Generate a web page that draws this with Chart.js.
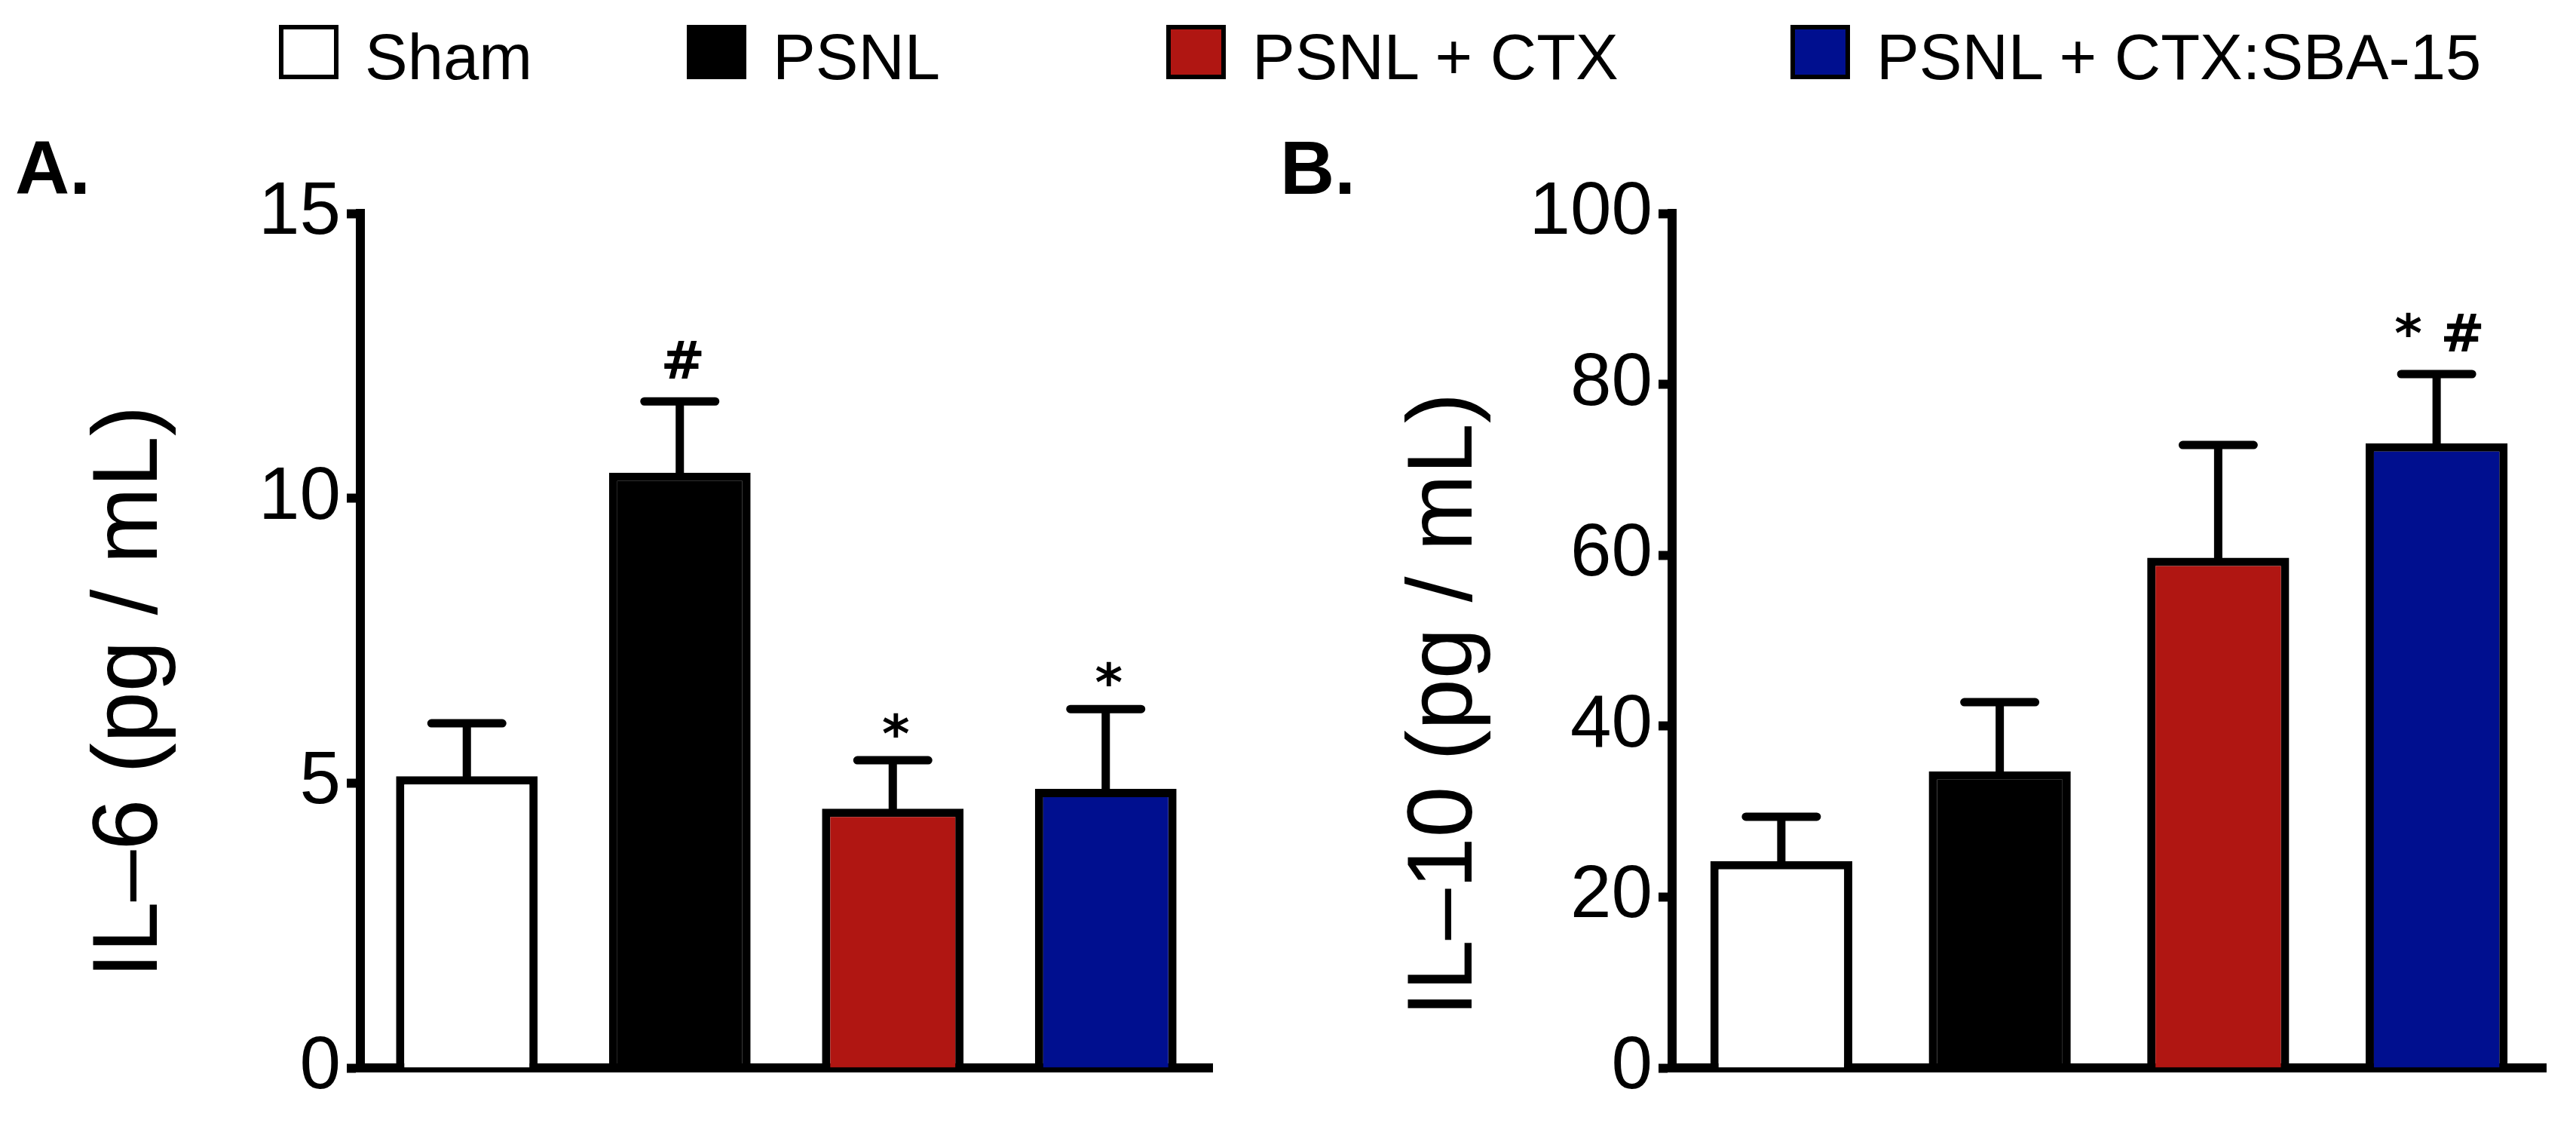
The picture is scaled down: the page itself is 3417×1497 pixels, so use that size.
<!DOCTYPE html>
<html>
<head>
<meta charset="utf-8">
<script src="https://cdn.jsdelivr.net/npm/chart.js@4.4.0/dist/chart.umd.min.js"></script>
<style>
  body { margin: 0; background: #fff; width: 3417px; height: 1497px; overflow: hidden; position: relative;
         font-family: 'Liberation Sans', Arial, sans-serif; color: #000; }
  canvas { position: absolute; top: 0; }
  #chartA { left: 0; }
  #chartB { left: 1700px; }
  .lg-box { position: absolute; top: 33px; width: 79px; height: 72px; border: 6px solid #000; box-sizing: border-box; }
  .lg-text { position: absolute; top: 33px; font-size: 85px; line-height: 1; white-space: nowrap; }
  .panel { position: absolute; top: 172px; font-size: 100px; font-weight: bold; line-height: 1; }
</style>
</head>
<body>
<div id="legend"></div>
<div class="panel" style="left:20px">A.</div>
<div class="panel" style="left:1698px">B.</div>
<canvas id="chartA" width="1700" height="1497"></canvas>
<canvas id="chartB" width="1717" height="1497"></canvas>
<script>
// datos
const groups = ['Sham', 'PSNL', 'PSNL + CTX', 'PSNL + CTX:SBA-15'];
const groupColors = ['#ffffff', '#000000', '#b01612', '#000f8f'];

const il6Mean = [5.12, 10.45, 4.55, 4.9];
const il6Sem = [0.93, 1.25, 0.85, 1.4];
const il6Marks = ['', '#', '*', '*'];
const il6Ticks = [0, 5, 10, 15];

const il10Mean = [24.2, 34.7, 59.7, 73.1];
const il10Sem = [5.2, 8.1, 13.2, 8.1];
const il10Marks = ['', '', '', '* #'];
const il10Ticks = [0, 20, 40, 60, 80, 100];

// leyenda en HTML (posiciones x de cada entrada)
const legendX = [370, 911, 1547, 2375];
const legendEl = document.getElementById('legend');
groups.forEach((g, i) => {
    const box = document.createElement('div');
    box.className = 'lg-box';
    box.style.left = legendX[i] + 'px';
    box.style.background = groupColors[i];
    legendEl.appendChild(box);
    const txt = document.createElement('div');
    txt.className = 'lg-text';
    txt.style.left = (legendX[i] + 114) + 'px';
    txt.textContent = g;
    legendEl.appendChild(txt);
});

// barras de error (solo hacia arriba) + marcas de significancia
const errorBars = {
    id: 'errorBars',
    afterDatasetsDraw(chart, args, opts) {
        const { ctx, scales: { y } } = chart;
        const meta = chart.getDatasetMeta(0);
        const data = chart.data.datasets[0].data;
        ctx.save();
        ctx.strokeStyle = '#000';
        ctx.fillStyle = '#000';
        ctx.lineWidth = 11;
        ctx.lineCap = 'round';
        meta.data.forEach((bar, i) => {
            const base = y.getPixelForValue(data[i]);
            const top = y.getPixelForValue(data[i] + opts.sem[i]);
            ctx.beginPath();
            ctx.moveTo(bar.x, base);
            ctx.lineTo(bar.x, top);
            ctx.moveTo(bar.x - 47, top);
            ctx.lineTo(bar.x + 47, top);
            ctx.stroke();
            if (opts.marks[i]) {
                ctx.font = "bold 70px 'DejaVu Sans', 'Liberation Sans', sans-serif";
                ctx.textAlign = 'center';
                ctx.textBaseline = 'alphabetic';
                // se apoya la parte baja del glifo a ~30px del tope
                const m = ctx.measureText(opts.marks[i]);
                ctx.fillText(opts.marks[i], bar.x + 4, top - 30 - m.actualBoundingBoxDescent);
            }
        });
        ctx.restore();
    }
};

function makeChart(id, means, sems, marks, ticks, title, axisW, padRight, titlePad, barPct) {
    const ctx = document.getElementById(id).getContext('2d');
    const maxV = ticks[ticks.length - 1];
    return new Chart(ctx, {
        type: 'bar',
        data: {
            labels: groups,
            datasets: [{
                data: means,
                backgroundColor: groupColors,
                borderColor: '#000',
                borderWidth: 11,
                barPercentage: barPct,
                categoryPercentage: 1
            }]
        },
        plugins: [errorBars],
        options: {
            responsive: false,
            devicePixelRatio: 1,
            animation: false,
            layout: { padding: { top: 283, right: padRight, bottom: 71, left: 0 } },
            plugins: {
                legend: { display: false },
                tooltip: { enabled: false },
                errorBars: { sem: sems, marks: marks }
            },
            scales: {
                x: {
                    grid: { display: false },
                    ticks: { display: false },
                    border: { display: true, color: '#000', width: 12 },
                    afterFit: (s) => { s.height = 10; }
                },
                y: {
                    min: 0,
                    max: maxV,
                    afterBuildTicks: (s) => { s.ticks = ticks.map(v => ({ value: v })); },
                    grid: { drawOnChartArea: false, drawTicks: true, tickLength: 18, tickWidth: 12, tickColor: '#000' },
                    border: { display: true, color: '#000', width: 12 },
                    ticks: {
                        color: '#000',
                        padding: 8,
                        font: { family: "'Liberation Sans', Arial, sans-serif", size: 98 }
                    },
                    title: {
                        display: true,
                        text: title,
                        color: '#000',
                        padding: { top: titlePad, bottom: 0 },
                        font: { family: "'Liberation Sans', Arial, sans-serif", size: 122 }
                    },
                    afterFit: (s) => { s.width = axisW; }
                }
            }
        }
    });
}

// los espacios finales bajan el título (rotado) hacia el centro visual del original
makeChart('chartA', il6Mean, il6Sem, il6Marks, il6Ticks, 'IL–6 (pg / mL)    ', 478, 92, 101, 0.665);
makeChart('chartB', il10Mean, il10Sem, il10Marks, il10Ticks, 'IL–10 (pg / mL)     ', 518, 40, 145, 0.65);
</script>
</body>
</html>
